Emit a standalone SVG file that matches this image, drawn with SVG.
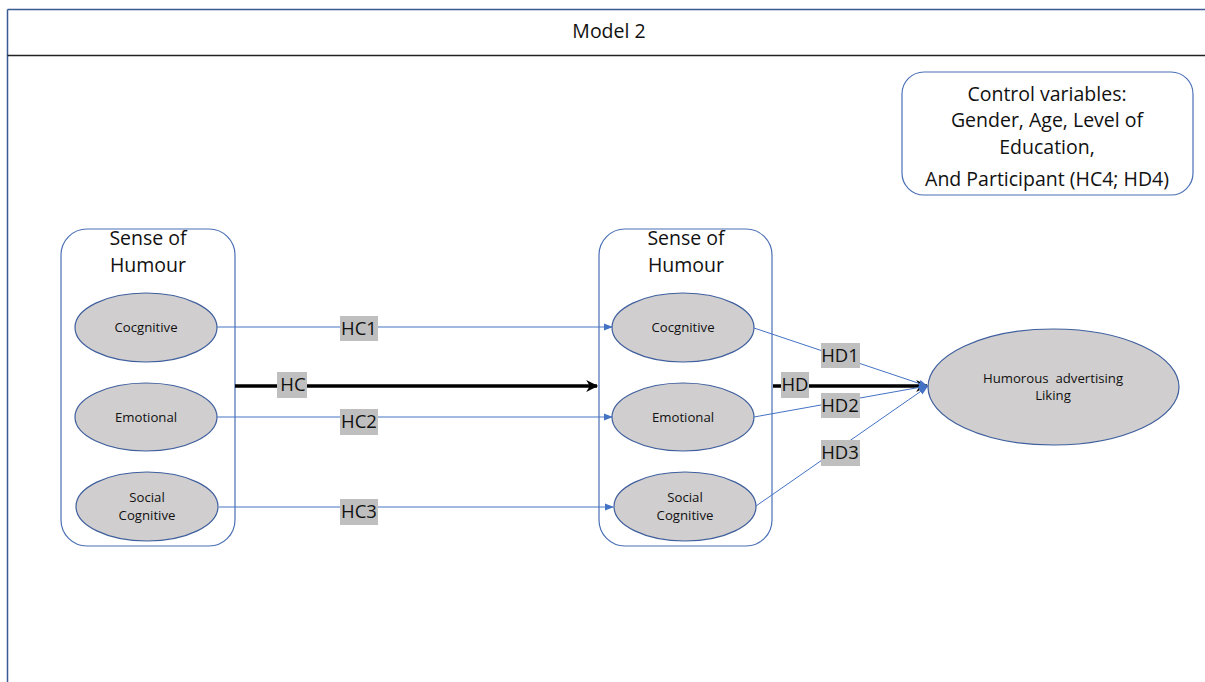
<svg xmlns="http://www.w3.org/2000/svg" width="1205" height="682" viewBox="0 0 1205 682">
<style>
.frame{fill:none;stroke:#3A5A94;stroke-width:1.5}
.cont{fill:#fff;stroke:#4A6FB5;stroke-width:1.2}
.ell{fill:#D0CECE;stroke:#3F5F9E;stroke-width:1.2}
.t{font-family:"Open Sans","Liberation Sans",sans-serif;fill:#111;text-anchor:middle}
.big{font-size:19.5px}
.lb{font-size:18.5px}
.sm{font-size:13.2px}
.lab{fill:#BFBFBF}
.thin{stroke:#4472C4;stroke-width:1;fill:none}
.thick{stroke:#000;stroke-width:3.5;fill:none}
</style>
<defs>
<marker id="ab" viewBox="0 0 10 10" refX="9" refY="5" markerWidth="9" markerHeight="9" markerUnits="userSpaceOnUse" orient="auto"><path d="M0,1 L10,5 L0,9 Z" fill="#4472C4"/></marker>
<marker id="ak" viewBox="0 0 10 10" refX="9" refY="5" markerWidth="14" markerHeight="12" markerUnits="userSpaceOnUse" orient="auto"><path d="M0,0 L10,5 L0,10 L3,5 Z" fill="#000"/></marker>
</defs>
<rect width="1205" height="682" fill="#fff"/>
<g id="frame">
<line x1="7.5" y1="9.5" x2="1205" y2="9.5" class="frame"/>
<line x1="7.5" y1="9.5" x2="7.5" y2="682" class="frame"/>
<line x1="7.5" y1="55.5" x2="1205" y2="55.5" stroke="#222" stroke-width="1.5"/>
<text x="609" y="38" class="t big">Model 2</text>
</g>
<g id="control">
<rect x="902" y="72" width="291" height="123" rx="22" class="cont"/>
<text x="1047" y="101" class="t big">Control variables:</text>
<text x="1047" y="127" class="t big">Gender, Age, Level of</text>
<text x="1047" y="154" class="t big">Education,</text>
<text x="1047" y="186" class="t big">And Participant (HC4; HD4)</text>
</g>
<g id="sense-left">
<rect x="61" y="229" width="174" height="317" rx="26" class="cont"/>
<text x="148" y="245" class="t big">Sense of</text>
<text x="148" y="272" class="t big">Humour</text>
</g>
<g id="sense-right">
<rect x="599" y="229" width="173" height="317" rx="26" class="cont"/>
<text x="686" y="245" class="t big">Sense of</text>
<text x="686" y="272" class="t big">Humour</text>
</g>
<g id="l-cog"><ellipse cx="146" cy="327.5" rx="71" ry="34.5" class="ell"/><text x="146" y="332" class="t sm">Cocgnitive</text></g>
<g id="l-emo"><ellipse cx="146" cy="417" rx="71" ry="34" class="ell"/><text x="146" y="421.5" class="t sm">Emotional</text></g>
<g id="l-soc"><ellipse cx="147" cy="506.5" rx="71" ry="34.5" class="ell"/><text x="147" y="501.5" class="t sm">Social</text><text x="147" y="519.5" class="t sm">Cognitive</text></g>
<g id="r-cog"><ellipse cx="683" cy="327.5" rx="71" ry="34.5" class="ell"/><text x="683" y="332" class="t sm">Cocgnitive</text></g>
<g id="r-emo"><ellipse cx="683" cy="417" rx="71" ry="34" class="ell"/><text x="683" y="421.5" class="t sm">Emotional</text></g>
<g id="r-soc"><ellipse cx="685" cy="506.5" rx="71" ry="34.5" class="ell"/><text x="685" y="501.5" class="t sm">Social</text><text x="685" y="519.5" class="t sm">Cognitive</text></g>
<g id="liking"><ellipse cx="1053.5" cy="387" rx="125.5" ry="58" class="ell"/><text x="1053" y="383" class="t sm" xml:space="preserve">Humorous  advertising</text><text x="1053" y="400" class="t sm">Liking</text></g>
<g id="connectors">
<line x1="217" y1="327" x2="612" y2="327" class="thin" marker-end="url(#ab)"/>
<line x1="217" y1="417" x2="612" y2="417" class="thin" marker-end="url(#ab)"/>
<line x1="219" y1="507" x2="613" y2="507" class="thin" marker-end="url(#ab)"/>
<line x1="235" y1="386" x2="597" y2="386" class="thick" marker-end="url(#ak)"/>
<line x1="773" y1="386" x2="927" y2="386" class="thick" marker-end="url(#ak)"/>
<line x1="754" y1="328" x2="927" y2="386" class="thin" marker-end="url(#ab)"/>
<line x1="754" y1="417" x2="927" y2="386" class="thin" marker-end="url(#ab)"/>
<line x1="756" y1="506" x2="927" y2="387" class="thin" marker-end="url(#ab)"/>
<rect x="340" y="316" width="38" height="25" class="lab"/><text x="359" y="335" class="t lb">HC1</text>
<rect x="277" y="372" width="30" height="26" class="lab"/><text x="293" y="391" class="t lb">HC</text>
<rect x="340" y="409" width="38" height="26" class="lab"/><text x="359" y="428" class="t lb">HC2</text>
<rect x="340" y="499" width="38" height="26" class="lab"/><text x="359" y="518" class="t lb">HC3</text>
<rect x="781" y="372" width="28" height="26" class="lab"/><text x="795" y="391" class="t lb">HD</text>
<rect x="821" y="343" width="39" height="25" class="lab"/><text x="840" y="362" class="t lb">HD1</text>
<rect x="821" y="393" width="39" height="25" class="lab"/><text x="840" y="412" class="t lb">HD2</text>
<rect x="821" y="440" width="39" height="26" class="lab"/><text x="840" y="459" class="t lb">HD3</text>
</g>
</svg>
